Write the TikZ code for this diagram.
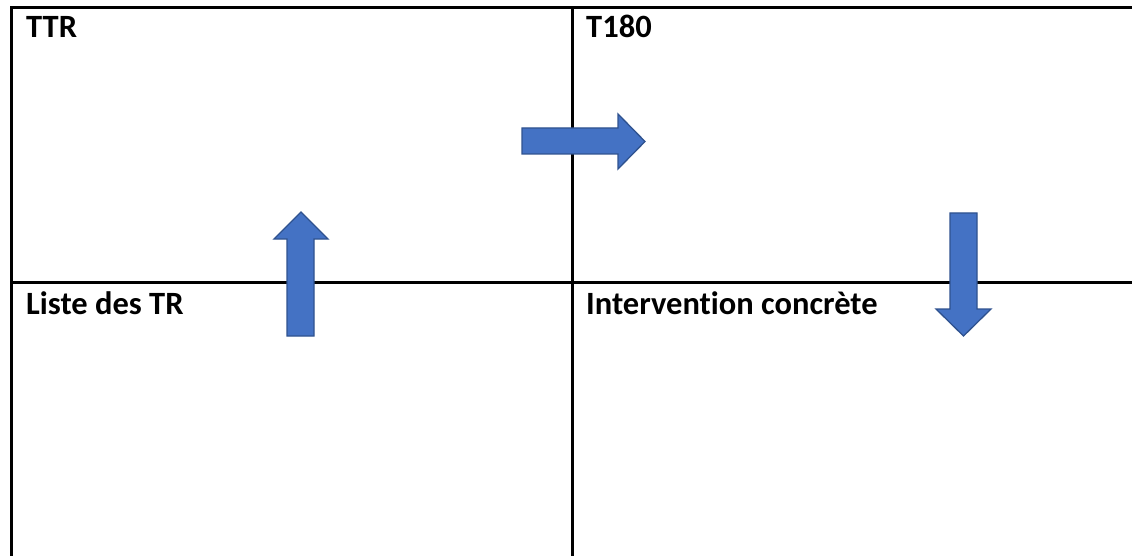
\documentclass[tikz,border=0pt]{standalone}
\usepackage{fontspec}
\setmainfont[Ligatures={NoCommon,NoContextual},RawFeature={-liga;-clig}]{Carlito}
\definecolor{arrowfill}{HTML}{4472C4}
\definecolor{arrowedge}{HTML}{2F528F}
\tikzset{
  gridline/.style={line width=3pt, black},
  blockarrow/.style={fill=arrowfill, draw=arrowedge, line width=1.3pt, line join=miter},
  celltext/.style={anchor=base west, inner sep=0pt, font=\fontsize{32.5pt}{36pt}\selectfont\bfseries}
}
\begin{document}
\begin{tikzpicture}[x=1pt,y=-1pt]
\useasboundingbox (0,0) rectangle (1132,556);
% grid
\coordinate (tl) at (11,8);
\coordinate (tr) at (1132,8);
\coordinate (bl) at (11,556);
\coordinate (mt) at (572,8);
\coordinate (mb) at (572,556);
\coordinate (ml) at (11,282);
\coordinate (mr) at (1132,282);
\draw[gridline] (bl) -- (tl) -- (tr);
\draw[gridline] (mt) -- (mb);
\draw[gridline] (ml) -- (mr);
% texts
\node[celltext] (ttr) at (26,38) {TTR};
\node[celltext] (t180) at (586,38) {T180};
\node[celltext] (liste) at (26,314) {Liste des TR};
\node[celltext] (interv) at (586,314) {Intervention concrète};
% arrows
\draw[blockarrow] (522,128) -- (618,128) -- (618,114) -- (645,141.5) -- (618,169) -- (618,154) -- (522,154) -- cycle;
\draw[blockarrow] (287,336) -- (287,239) -- (274,239) -- (301,212) -- (328,239) -- (314,239) -- (314,336) -- cycle;
\draw[blockarrow] (950,213) -- (977,213) -- (977,309) -- (991,309) -- (963.5,336) -- (936,309) -- (950,309) -- cycle;
\end{tikzpicture}
\end{document}
